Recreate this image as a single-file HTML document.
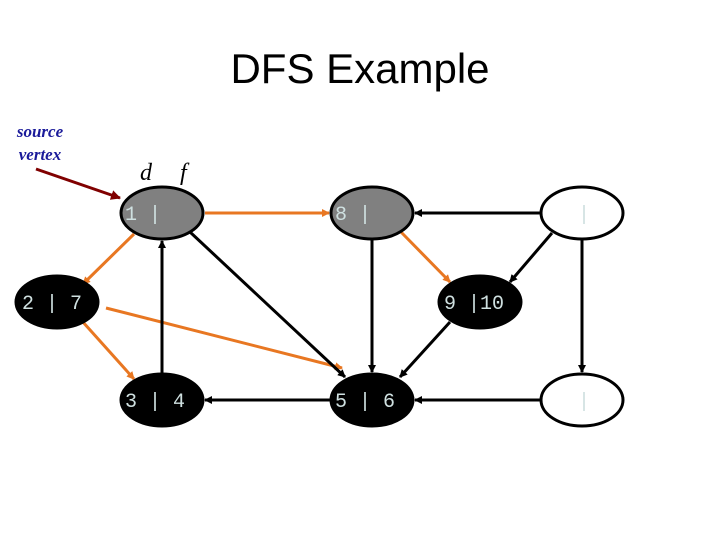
<!DOCTYPE html>
<html><head><style>
body{margin:0;background:#fff;}
svg{display:block}
</style></head><body>
<svg width="720" height="540" xmlns="http://www.w3.org/2000/svg">
<defs>
<marker id="ab" markerWidth="8" markerHeight="8" refX="7" refY="4" orient="auto" markerUnits="userSpaceOnUse"><path d="M0,0 L8,4 L0,8 z" fill="#000"/></marker>
<marker id="ao" markerWidth="8" markerHeight="8" refX="7" refY="4" orient="auto" markerUnits="userSpaceOnUse"><path d="M0,0 L8,4 L0,8 z" fill="#e87722"/></marker>
<marker id="ar" markerWidth="10" markerHeight="10" refX="9" refY="5" orient="auto" markerUnits="userSpaceOnUse"><path d="M0,0 L10,5 L0,10 z" fill="#800000"/></marker>
</defs>
<text x="360" y="83" font-family="Liberation Sans, sans-serif" font-size="42" text-anchor="middle">DFS Example</text>
<text x="40" y="137" font-family="Liberation Serif, serif" font-size="17" font-style="italic" font-weight="bold" fill="#1a1a9a" text-anchor="middle">source</text>
<text x="40" y="160" font-family="Liberation Serif, serif" font-size="17" font-style="italic" font-weight="bold" fill="#1a1a9a" text-anchor="middle">vertex</text>
<line x1="36" y1="169" x2="120" y2="198" stroke="#800000" stroke-width="3" marker-end="url(#ar)"/>
<text x="140" y="180" font-family="Liberation Serif, serif" font-size="24" font-style="italic">d</text>
<text x="180" y="180" font-family="Liberation Serif, serif" font-size="24" font-style="italic">f</text>
<g stroke-width="3" fill="none">
<line x1="205" y1="213" x2="329" y2="213" stroke="#e87722" marker-end="url(#ao)"/>
<line x1="134" y1="234" x2="83" y2="284" stroke="#e87722" marker-end="url(#ao)"/>
<line x1="82" y1="321" x2="134" y2="379" stroke="#e87722" marker-end="url(#ao)"/>
<line x1="106" y1="308" x2="342" y2="368" stroke="#e87722" marker-end="url(#ao)"/>
<line x1="401" y1="232" x2="450" y2="282" stroke="#e87722" marker-end="url(#ao)"/>
<line x1="162" y1="373" x2="162" y2="241" stroke="#000" marker-end="url(#ab)"/>
<line x1="190" y1="232" x2="345" y2="377" stroke="#000" marker-end="url(#ab)"/>
<line x1="372" y1="240" x2="372" y2="372" stroke="#000" marker-end="url(#ab)"/>
<line x1="540" y1="213" x2="415" y2="213" stroke="#000" marker-end="url(#ab)"/>
<line x1="552" y1="233" x2="510" y2="282" stroke="#000" marker-end="url(#ab)"/>
<line x1="450" y1="322" x2="400" y2="377" stroke="#000" marker-end="url(#ab)"/>
<line x1="582" y1="240" x2="582" y2="372" stroke="#000" marker-end="url(#ab)"/>
<line x1="540" y1="400" x2="415" y2="400" stroke="#000" marker-end="url(#ab)"/>
<line x1="330" y1="400" x2="205" y2="400" stroke="#000" marker-end="url(#ab)"/>
</g>
<g stroke="#000" stroke-width="3">
<ellipse cx="162" cy="213" rx="41" ry="26" fill="#808080"/>
<ellipse cx="372" cy="213" rx="41" ry="26" fill="#808080"/>
<ellipse cx="582" cy="213" rx="41" ry="26" fill="#fff"/>
<ellipse cx="57" cy="302" rx="41" ry="26" fill="#000"/>
<ellipse cx="480" cy="302" rx="41" ry="26" fill="#000"/>
<ellipse cx="162" cy="400" rx="41" ry="26" fill="#000"/>
<ellipse cx="372" cy="400" rx="41" ry="26" fill="#000"/>
<ellipse cx="582" cy="400" rx="41" ry="26" fill="#fff"/>
</g>
<g font-family="Liberation Mono, DejaVu Sans Mono, monospace" font-size="20" fill="#cfe0e0">
<text x="125" y="220">1 |</text>
<text x="335" y="220">8 |</text>
<text x="578" y="220">|</text>
<text x="22" y="309">2 | 7</text>
<text x="444" y="309">9 |10</text>
<text x="125" y="407">3 | 4</text>
<text x="335" y="407">5 | 6</text>
<text x="578" y="407">|</text>
</g>
</svg>
</body></html>
